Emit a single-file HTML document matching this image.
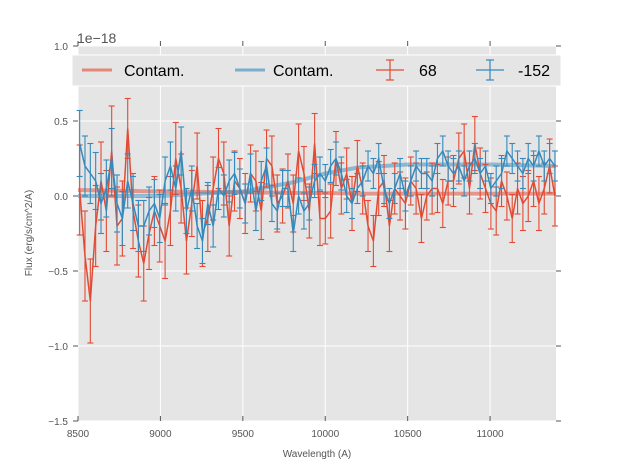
<!DOCTYPE html>
<html><head><meta charset="utf-8"><style>
body{margin:0;background:#fff}
svg{font-family:"Liberation Sans",sans-serif}
</style></head><body>
<svg id="c" width="617" height="467" xmlns="http://www.w3.org/2000/svg">
<rect x="78" y="46" width="478" height="375" fill="#e5e5e5"/>
<g id="grid"></g><g id="ticks"></g>
<g id="series"></g>
<text x="77" y="43" font-size="14" fill="#555">1e−18</text>
<text x="317" y="457" font-size="10" fill="#555" text-anchor="middle">Wavelength (A)</text>
<text transform="translate(32,233) rotate(-90)" font-size="10" fill="#555" text-anchor="middle">Flux (erg/s/cm^2/A)</text>
<g>
<rect x="72" y="55" width="489" height="31" fill="#e5e5e5" stroke="#fff" stroke-width="1"/>
<line x1="82" y1="70" x2="112" y2="70" stroke="#E24A33" stroke-width="3" opacity="0.6"/>
<text x="124" y="76" font-size="16" fill="#000">Contam.</text>
<line x1="235" y1="70" x2="265" y2="70" stroke="#348ABD" stroke-width="3" opacity="0.6"/>
<text x="273" y="76" font-size="16" fill="#000">Contam.</text>
<g stroke="#E24A33" stroke-width="1.2"><line x1="376" y1="70" x2="404" y2="70"/><line x1="390" y1="60" x2="390" y2="80"/><line x1="386" y1="60" x2="394" y2="60"/><line x1="386" y1="80" x2="394" y2="80"/></g>
<text x="419" y="76" font-size="16" fill="#000">68</text>
<g stroke="#348ABD" stroke-width="1.2"><line x1="476" y1="70" x2="504" y2="70"/><line x1="490" y1="60" x2="490" y2="80"/><line x1="486" y1="60" x2="494" y2="60"/><line x1="486" y1="80" x2="494" y2="80"/></g>
<text x="518" y="76" font-size="16" fill="#000">-152</text>
</g>
</svg>
<script>
const xTicks=[8500,9000,9500,10000,10500,11000];
const xTickLabels=["8500","9000","9500","10000","10500","11000"];
const yTicks=[-1.5,-1.0,-0.5,0.0,0.5,1.0];
const yTickLabels=["−1.5","−1.0","−0.5","0.0","0.5","1.0"];
const waveStart=8510, waveStep=32.4;
const redFlux=[0.04,-0.4,-0.7,-0.2,0.1,-0.1,0.3,-0.2,-0.15,0.45,-0.1,-0.3,-0.45,-0.25,-0.1,-0.2,-0.3,-0.1,0.25,0.05,-0.3,-0.05,0.2,-0.25,-0.15,0.05,0.25,0.15,-0.2,0.1,0.05,-0.05,0.15,0.1,-0.1,0.25,0.2,-0.05,0.0,0.1,-0.05,0.3,0.15,-0.1,0.35,-0.15,-0.15,-0.1,0.25,0.05,0.15,-0.05,0.2,0.05,-0.2,-0.3,0.05,0.1,-0.2,0.05,0.0,-0.05,0.1,0.05,-0.15,0.0,0.05,0.05,-0.05,0.1,0.1,0.25,0.3,0.05,0.35,0.15,0.05,-0.05,-0.1,0.1,0.0,-0.15,0.05,-0.05,0.0,0.1,-0.05,0.05,0.2,0.0];
const redErr=[0.3,0.3,0.28,0.27,0.26,0.27,0.3,0.26,0.25,0.2,0.25,0.24,0.25,0.24,0.23,0.24,0.25,0.23,0.24,0.23,0.22,0.22,0.22,0.22,0.22,0.21,0.2,0.21,0.2,0.2,0.2,0.2,0.19,0.2,0.19,0.19,0.2,0.19,0.18,0.18,0.19,0.18,0.18,0.18,0.2,0.18,0.17,0.18,0.18,0.17,0.17,0.18,0.17,0.17,0.17,0.17,0.18,0.17,0.17,0.17,0.16,0.17,0.16,0.17,0.16,0.16,0.17,0.16,0.16,0.16,0.17,0.17,0.18,0.17,0.18,0.17,0.16,0.17,0.16,0.17,0.16,0.16,0.17,0.18,0.17,0.17,0.18,0.17,0.18,0.2];
const blueFlux=[0.35,0.2,0.15,0.1,-0.05,0.05,0.25,-0.05,-0.15,0.1,-0.05,-0.2,-0.2,-0.1,-0.05,-0.15,0.1,0.2,0.05,0.3,-0.1,0.05,-0.2,-0.3,-0.05,-0.2,0.05,0.0,0.1,0.15,0.05,-0.05,0.15,-0.1,0.1,0.2,-0.05,-0.1,0.05,0.05,-0.25,0.0,-0.1,-0.05,0.1,0.15,0.1,0.2,0.25,0.15,0.0,-0.05,0.05,0.1,0.2,0.15,0.25,0.05,-0.05,0.05,0.15,0.0,0.1,0.2,0.15,0.15,0.1,0.25,0.3,0.2,0.15,0.2,0.1,0.2,0.25,0.15,0.2,0.05,0.1,0.15,0.3,0.25,0.2,0.15,0.25,0.2,0.3,0.2,0.25,0.2];
const blueErr=[0.22,0.2,0.2,0.19,0.2,0.19,0.2,0.19,0.18,0.18,0.18,0.17,0.17,0.16,0.16,0.16,0.16,0.16,0.15,0.16,0.15,0.15,0.15,0.15,0.14,0.14,0.14,0.14,0.14,0.14,0.13,0.13,0.13,0.13,0.13,0.12,0.12,0.12,0.12,0.12,0.12,0.12,0.12,0.11,0.11,0.11,0.11,0.11,0.11,0.11,0.11,0.1,0.1,0.1,0.1,0.1,0.1,0.1,0.1,0.1,0.1,0.1,0.1,0.1,0.1,0.1,0.1,0.1,0.1,0.1,0.1,0.1,0.1,0.1,0.1,0.1,0.1,0.1,0.1,0.1,0.1,0.1,0.1,0.1,0.1,0.1,0.1,0.1,0.1,0.1];
const contamWave=[8500,9000,9500,9800,10000,10200,10500,11000,11400];
const redContam=[0.04,0.03,0.025,0.02,0.02,0.015,0.015,0.015,0.015];
const blueContam=[0.0,0.0,0.03,0.09,0.15,0.19,0.21,0.21,0.2];
const NS="http://www.w3.org/2000/svg";
const X=w=>78+(w-8500)*(478/2900);
const Y=v=>196-v*150;
function mk(tag,attrs,parent){const e=document.createElementNS(NS,tag);for(const k in attrs)e.setAttribute(k,attrs[k]);parent.appendChild(e);return e;}
const grid=document.getElementById('grid'),ticks=document.getElementById('ticks'),ser=document.getElementById('series');
xTicks.forEach((t,i)=>{const x=X(t);
const g=mk('line',{x1:x,x2:x,y1:46,y2:421,stroke:'#fff','stroke-width':1},grid);

mk('line',{x1:x,x2:x,y1:421,y2:416,stroke:'#555'},ticks);mk('line',{x1:x,x2:x,y1:46,y2:41,stroke:'#555'},ticks);
const t2=mk('text',{x:x,y:437,'font-size':10,fill:'#555','text-anchor':'middle'},ticks);t2.textContent=xTickLabels[i];
});
yTicks.forEach((t,i)=>{const y=Y(t);
const g=mk('line',{x1:78,x2:556,y1:y,y2:y,stroke:'#fff','stroke-width':1},grid);

mk('line',{x1:73,x2:78,y1:y,y2:y,stroke:'#555'},ticks);mk('line',{x1:556,x2:561,y1:y,y2:y,stroke:'#555'},ticks);
const t2=mk('text',{x:68,y:y+4,'font-size':10,fill:'#555','text-anchor':'end'},ticks);t2.textContent=yTickLabels[i];
});
function contam(vals,col,name){const p=vals.map((v,i)=>X(contamWave[i])+','+Y(v)).join(' ');
const l=mk('polyline',{points:p,fill:'none',stroke:col,'stroke-width':4,opacity:0.5},ser);
}
function series(f,e,col,name){const g=mk('g',{stroke:col,'stroke-width':1.1,fill:'none'},ser);

f.forEach((v,i)=>{const x=X(waveStart+i*waveStep);if(x>556)return;const y1=Y(v-e[i]),y2=Y(v+e[i]);
mk('line',{x1:x,x2:x,y1:y1,y2:y2},g);mk('line',{x1:x-3,x2:x+3,y1:y1,y2:y1},g);mk('line',{x1:x-3,x2:x+3,y1:y2,y2:y2},g);});
const p=f.map((v,i)=>[X(waveStart+i*waveStep),Y(v)]).filter(a=>a[0]<=556).map(a=>a.join(',')).join(' ');
mk('polyline',{points:p,'stroke-width':1.5},g);}
contam(redContam,'#E24A33','contam-line-red');
contam(blueContam,'#348ABD','contam-line-blue');
series(redFlux,redErr,'#E24A33','series-68');
series(blueFlux,blueErr,'#348ABD','series-minus152');
</script>
</body></html>
